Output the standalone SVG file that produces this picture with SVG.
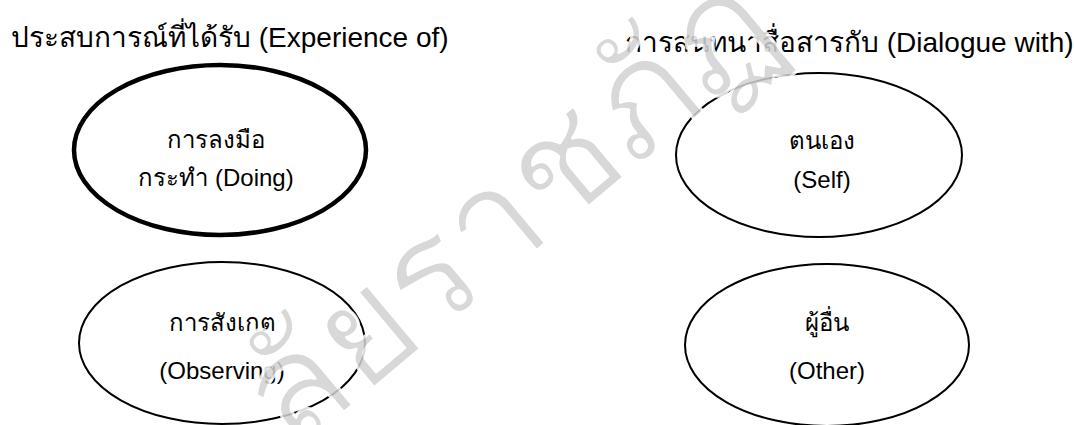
<svg xmlns="http://www.w3.org/2000/svg" width="1074" height="425" viewBox="0 0 1074 425">
<style>
.t{font-family:"Liberation Sans","Noto Sans","DejaVu Sans",sans-serif;fill:#000}
.title{font-size:28px}
.lbl{font-size:24px;text-anchor:middle}
.e{fill:none;stroke:#000;stroke-width:2}
.bold{stroke-width:4.5}
.wm{font-family:"Noto Sans","DejaVu Sans",sans-serif;font-size:150px;fill:#d2d2d2;stroke:#fff;stroke-width:3;stroke-linejoin:round;opacity:0.85;text-anchor:middle}
</style>
<rect width="1074" height="425" fill="#fff"/>
<text class="t title" x="11" y="47">ประสบการณ์ที่ได้รับ (Experience of)</text>
<text class="t title" x="625" y="52">การสนทนาสื่อสารกับ (Dialogue with)</text>
<g id="doing">
<ellipse class="e bold" cx="220" cy="150" rx="146" ry="85"/>
<text class="t lbl" x="216" y="148">การลงมือ</text>
<text class="t lbl" x="216" y="186">กระทำ (Doing)</text>
</g>
<g id="observing">
<ellipse class="e" cx="222" cy="343" rx="143" ry="81"/>
<text class="t lbl" x="222" y="331">การสังเกต</text>
<text class="t lbl" x="222" y="379">(Observing)</text>
</g>
<g id="self">
<ellipse class="e" cx="819" cy="155" rx="143" ry="82"/>
<text class="t lbl" x="822" y="149">ตนเอง</text>
<text class="t lbl" x="822" y="188">(Self)</text>
</g>
<g id="other">
<ellipse class="e" cx="827" cy="345" rx="142" ry="81"/>
<text class="t lbl" x="827" y="331">ผู้อื่น</text>
<text class="t lbl" x="827" y="379">(Other)</text>
</g>
<g id="connectors"/>
<g id="watermark">
<text class="wm" x="0" y="0" transform="translate(540,248) rotate(-40)">ลัยราชภัฏ</text>
</g>
</svg>
